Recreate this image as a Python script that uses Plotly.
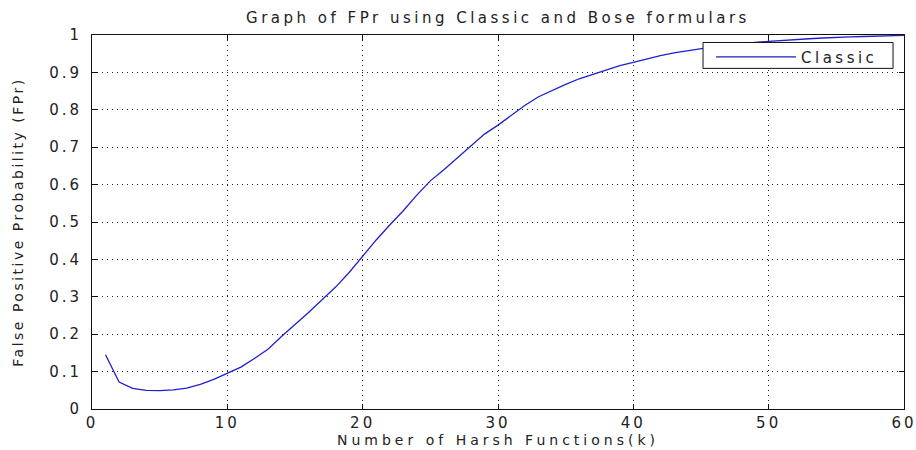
import plotly.graph_objects as go

k_values = list(range(1, 61))
fpr_classic = [
    0.145, 0.072, 0.055, 0.050, 0.049, 0.051, 0.056, 0.066, 0.079, 0.095,
    0.112, 0.135, 0.160, 0.194, 0.225, 0.258, 0.292, 0.326, 0.365, 0.410,
    0.452, 0.492, 0.530, 0.572, 0.610, 0.640, 0.672, 0.705, 0.735, 0.759,
    0.785, 0.812, 0.835, 0.852, 0.868, 0.883, 0.895, 0.906, 0.918, 0.927,
    0.937, 0.945, 0.952, 0.958, 0.964, 0.969, 0.973, 0.977, 0.980, 0.983,
    0.986, 0.988, 0.990, 0.992, 0.994, 0.995, 0.996, 0.997, 0.998, 0.999,
]
x_ticks = [0, 10, 20, 30, 40, 50, 60]
y_ticks = [0, 0.1, 0.2, 0.3, 0.4, 0.5, 0.6, 0.7, 0.8, 0.9, 1]
y_tick_labels = ["0", "0.1", "0.2", "0.3", "0.4", "0.5", "0.6", "0.7", "0.8", "0.9", "1"]
x_tick_labels = ["0", "10", "20", "30", "40", "50", "60"]
title_text = "Graph of FPr using Classic and Bose formulars"
x_title = "Number of Harsh Functions(k)"
y_title = "False Positive Probability (FPr)"
series_name = "Classic"

FONT = "DejaVu Sans"
TXT = "#222222"


def spaced(s, px):
    return '<span style="letter-spacing:%.1fpx">%s</span>' % (px, s)


fig = go.Figure()
fig.add_trace(go.Scatter(
    x=k_values, y=fpr_classic, mode="lines", name=spaced(series_name, 3.5),
    line=dict(color="#1f1fd0", width=1.3),
))

axis_common = dict(
    showline=True, linecolor="#111111", linewidth=1, mirror="ticks",
    ticks="inside", ticklen=5, tickcolor="#111111", tickwidth=1,
    showgrid=True, gridcolor="#222222", gridwidth=1, griddash="1px,4px",
    zeroline=False, tickfont=dict(family=FONT, size=15, color=TXT),
    ticklabeloverflow="allow",
)

fig.update_xaxes(
    range=[0, 60], tickvals=x_ticks, ticktext=[spaced(t, 3) for t in x_tick_labels],
    title=dict(text=spaced(x_title, 4), font=dict(family=FONT, size=14, color=TXT), standoff=2),
    ticklabelstandoff=0,
    **axis_common,
)
fig.update_yaxes(
    range=[0, 1], tickvals=y_ticks, ticktext=[spaced(t, 3) for t in y_tick_labels],
    title=dict(text=spaced(y_title, 2.5), font=dict(family=FONT, size=14, color=TXT), standoff=22),
    ticklabelstandoff=6,
    **axis_common,
)

# legend frame (decoration)
fig.add_shape(type="rect", xref="paper", yref="paper",
              x0=0.7525, x1=0.9865, y0=0.9107, y1=0.98,
              line=dict(color="#111111", width=1), fillcolor="white", layer="above")

fig.update_layout(
    width=916, height=450,
    margin=dict(l=92, r=12, t=35, b=41, autoexpand=False),
    paper_bgcolor="white", plot_bgcolor="white",
    title=dict(text=spaced(title_text, 3.5),
               font=dict(family=FONT, size=15, color=TXT),
               x=0.5, xref="paper", y=1 - 18 / 450, yref="container", yanchor="middle"),
    showlegend=True,
    legend=dict(
        x=0.7623, y=0.985, xanchor="left", yanchor="top",
        bgcolor="rgba(0,0,0,0)", borderwidth=0,
        font=dict(family=FONT, size=15, color=TXT),
        itemwidth=80,
    ),
)

fig.write_html(
    "out.html",
    config={"displayModeBar": False},
    post_script="document.body.style.margin='0px';document.documentElement.style.overflow='hidden';",
)
